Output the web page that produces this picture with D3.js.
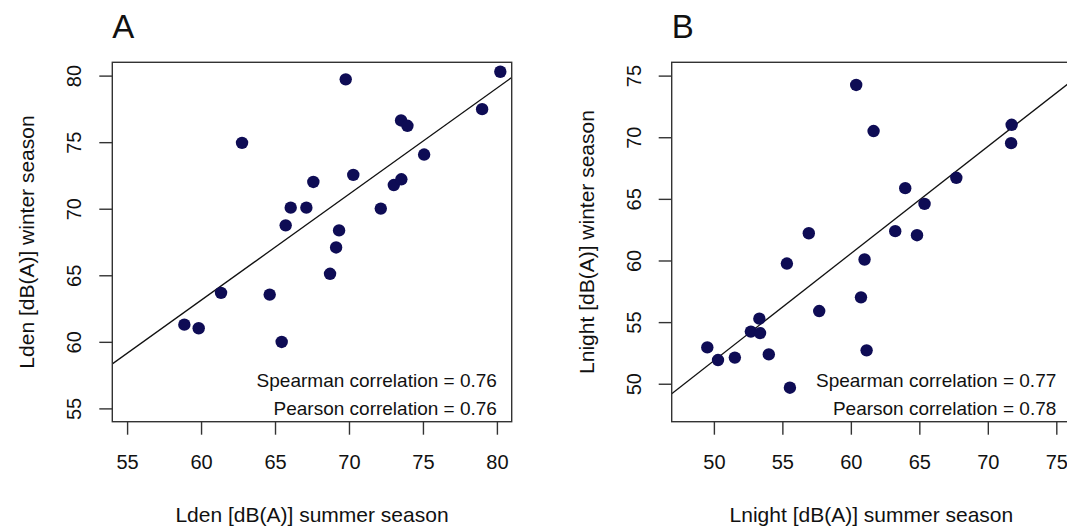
<!DOCTYPE html>
<html>
<head>
<meta charset="utf-8">
<script src="https://cdn.jsdelivr.net/npm/d3@7"></script>
<style>
  body { margin: 0; background: #fff; }
  svg { display: block; font-family: "Liberation Sans", Arial, sans-serif; }
</style>
</head>
<body>
<div id="chart"></div>
<script>
// panel A : Lden
var summerA = [58.87, 59.84, 61.35, 62.77, 64.64, 65.45, 65.72, 66.06, 67.12, 67.59, 68.72, 69.13,
               69.33, 69.78, 70.29, 72.15, 73.03, 73.54, 73.52, 73.95, 75.08, 79.0, 80.23]
var winterA = [61.29, 61.02, 63.68, 74.95, 63.55, 59.99, 68.75, 70.08, 70.08, 72.01, 65.11, 67.09,
               68.37, 79.72, 72.54, 70.01, 71.78, 72.21, 76.63, 76.23, 74.07, 77.48, 80.29]
// panel B : Lnight
var summerB = [49.52, 50.30, 51.53, 52.70, 53.32, 53.37, 54.01, 55.33, 55.55, 56.93, 57.69, 60.39,
               60.74, 61.0, 61.15, 61.66, 63.24, 63.97, 64.83, 65.38, 67.70, 71.70, 71.74]
var winterB = [52.95, 51.92, 52.12, 54.23, 55.28, 54.11, 52.38, 59.75, 49.68, 62.21, 55.90, 74.24,
               57.01, 60.08, 52.71, 70.50, 62.38, 65.87, 62.05, 64.59, 66.71, 69.52, 71.01]

var ticksA = [55, 60, 65, 70, 75, 80]
var ticksB = [50, 55, 60, 65, 70, 75]
var limA = [55, 80]
var limB = [48, 75]
// regression line: intercept, slope
var fitA = [15.3, 0.797]
var fitB = [8.42, 0.869]
var corrA = ["Spearman correlation = 0.76", "Pearson correlation = 0.76"]
var corrB = ["Spearman correlation = 0.77", "Pearson correlation = 0.78"]

var width = 1067, height = 526
var boxW = 399.4, boxTop = 62.3, boxBottom = 421.7

var svg = d3.select("#chart").append("svg")
    .attr("width", width)
    .attr("height", height)

function rlim(l) {
    // R style 4% axis extension
    var e = (l[1] - l[0]) * 0.04
    return [l[0] - e, l[1] + e]
}

function panel(opt) {
    var left = opt.left
    var x = d3.scaleLinear().domain(rlim(opt.lim)).range([left, left + boxW])
    var y = d3.scaleLinear().domain(rlim(opt.lim)).range([boxBottom, boxTop])
    var g = svg.append("g")

    g.append("clipPath").attr("id", "clip" + opt.name)
        .append("rect")
        .attr("x", left).attr("y", boxTop)
        .attr("width", boxW).attr("height", boxBottom - boxTop)

    // regression line
    var xd = x.domain()
    g.append("line")
        .attr("clip-path", "url(#clip" + opt.name + ")")
        .attr("x1", x(xd[0])).attr("y1", y(opt.fit[0] + opt.fit[1] * xd[0]))
        .attr("x2", x(xd[1])).attr("y2", y(opt.fit[0] + opt.fit[1] * xd[1]))
        .attr("stroke", "#111")
        .attr("stroke-width", 1.3)

    g.selectAll(".pt")
        .data(opt.xs)
        .enter().append("circle")
        .attr("class", "pt")
        .attr("cx", function(d) { return x(d) })
        .attr("cy", function(d, i) { return y(opt.ys[i]) })
        .attr("r", 6.2)
        .attr("fill", "#0e0c55")

    // box
    g.append("rect")
        .attr("x", left).attr("y", boxTop)
        .attr("width", boxW).attr("height", boxBottom - boxTop)
        .attr("fill", "none")
        .attr("stroke", "#333")
        .attr("stroke-width", 1.4)

    var xAxis = g.append("g")
        .attr("transform", "translate(0," + boxBottom + ")")
        .call(d3.axisBottom(x).tickValues(opt.ticks).tickSize(13).tickSizeOuter(0).tickPadding(20))
    var yAxis = g.append("g")
        .attr("transform", "translate(" + left + ",0)")
        .call(d3.axisLeft(y).tickValues(opt.ticks).tickSize(13).tickSizeOuter(0))
    ;[xAxis, yAxis].forEach(function(a) {
        a.select(".domain").remove()
        a.selectAll("line").attr("stroke", "#333").attr("stroke-width", 1.4)
        a.selectAll("text").attr("fill", "#111").style("font-size", "20px")
            .style("font-family", "'Liberation Sans', Arial, sans-serif")
    })
    yAxis.selectAll("text")
        .attr("x", null).attr("dy", null)
        .attr("text-anchor", "middle")
        .attr("transform", "translate(-31,0) rotate(-90)")

    // correlation notes
    g.selectAll(".corr")
        .data(opt.corr)
        .enter().append("text")
        .attr("x", x(opt.lim[1]))
        .attr("y", function(d, i) { return 387 + i * 27.5 })
        .attr("text-anchor", "end")
        .style("font-size", "19px")
        .attr("fill", "#111")
        .text(function(d) { return d })

    g.append("text")
        .attr("x", left + boxW / 2)
        .attr("y", 522)
        .attr("text-anchor", "middle")
        .style("font-size", "21px")
        .attr("fill", "#111")
        .text(opt.xlab)

    g.append("text")
        .attr("transform", "translate(" + (left - 78) + "," + ((boxTop + boxBottom) / 2) + ") rotate(-90)")
        .attr("text-anchor", "middle")
        .style("font-size", "21px")
        .attr("fill", "#111")
        .text(opt.ylab)

    g.append("text")
        .attr("x", left)
        .attr("y", 38)
        .style("font-size", "33px")
        .attr("fill", "#111")
        .text(opt.name)
}

panel({name: "A", left: 112.3, lim: limA, ticks: ticksA, xs: summerA, ys: winterA, fit: fitA, corr: corrA,
       xlab: "Lden [dB(A)] summer season", ylab: "Lden [dB(A)] winter season"})
panel({name: "B", left: 671.7, lim: limB, ticks: ticksB, xs: summerB, ys: winterB, fit: fitB, corr: corrB,
       xlab: "Lnight [dB(A)] summer season", ylab: "Lnight [dB(A)] winter season"})
</script>
</body>
</html>
